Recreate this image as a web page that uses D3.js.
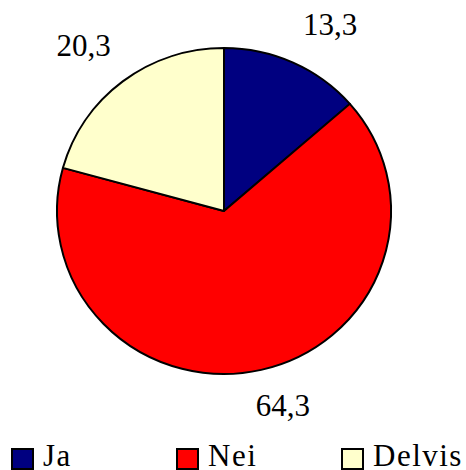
<!DOCTYPE html>
<html>
<head>
<meta charset="utf-8">
<script src="https://cdn.jsdelivr.net/npm/d3@7"></script>
<style>
  body { margin: 0; background: #fff; }
  svg { display: block; }
</style>
</head>
<body>
<div id="chart"></div>
<script>
// data
var categories = ["Ja", "Nei", "Delvis"];
var values = [13.3, 64.3, 20.3];
var colors = ["#000080", "#ff0000", "#ffffcc"];

var width = 466, height = 470;
var cx = 224, cy = 211, radius = 167;
var squash = 0.976;

var svg = d3.select("#chart").append("svg")
    .attr("width", width)
    .attr("height", height);

var data = categories.map(function(c, i) { return {name: c, value: values[i], color: colors[i]}; });

var pie = d3.pie()
    .sort(null)
    .value(function(d) { return d.value; });

var arc = d3.arc()
    .innerRadius(0)
    .outerRadius(radius);

var arcs = pie(data);

// value labels first, placed outside the pie
var labelArc = d3.arc().innerRadius(radius + 48).outerRadius(radius + 48);
var labelOffsets = [[17, 15], [11, 0], [-10, 12]];

svg.selectAll("text.value")
    .data(arcs)
    .enter().append("text")
    .attr("class", "value")
    .attr("x", function(d, i) { return cx + labelArc.centroid(d)[0] + labelOffsets[i][0]; })
    .attr("y", function(d, i) { return cy + labelArc.centroid(d)[1] * squash + labelOffsets[i][1]; })
    .style("font-family", "'Liberation Serif'")
    .style("font-size", "31px")
    .style("text-anchor", "middle")
    .text(function(d) { return String(d.data.value).replace(".", ","); });

// pie is slightly squashed vertically in the reference
var g = svg.append("g")
    .attr("transform", "translate(" + cx + "," + cy + ") scale(1," + squash + ")");

g.selectAll("path.slice")
    .data(arcs)
    .enter().append("path")
    .attr("class", "slice")
    .attr("d", arc)
    .attr("fill", function(d) { return d.data.color; })
    .attr("stroke", "#000")
    .attr("stroke-width", 2)
    .attr("stroke-linejoin", "round");

// legend
var legendX = d3.scalePoint()
    .domain(categories)
    .range([11, 341]);

var legend = svg.selectAll("g.legend")
    .data(data)
    .enter().append("g")
    .attr("class", "legend")
    .attr("transform", function(d) { return "translate(" + legendX(d.name) + ",448)"; });

legend.append("rect")
    .attr("x", 1)
    .attr("y", 1)
    .attr("width", 21)
    .attr("height", 20)
    .attr("fill", function(d) { return d.color; })
    .attr("stroke", "#000")
    .attr("stroke-width", 2);

legend.append("text")
    .attr("x", 32)
    .attr("y", 18)
    .style("font-family", "'Liberation Serif'")
    .style("font-size", "31px")
    .style("letter-spacing", "1.5px")
    .text(function(d) { return d.name; });
</script>
</body>
</html>
